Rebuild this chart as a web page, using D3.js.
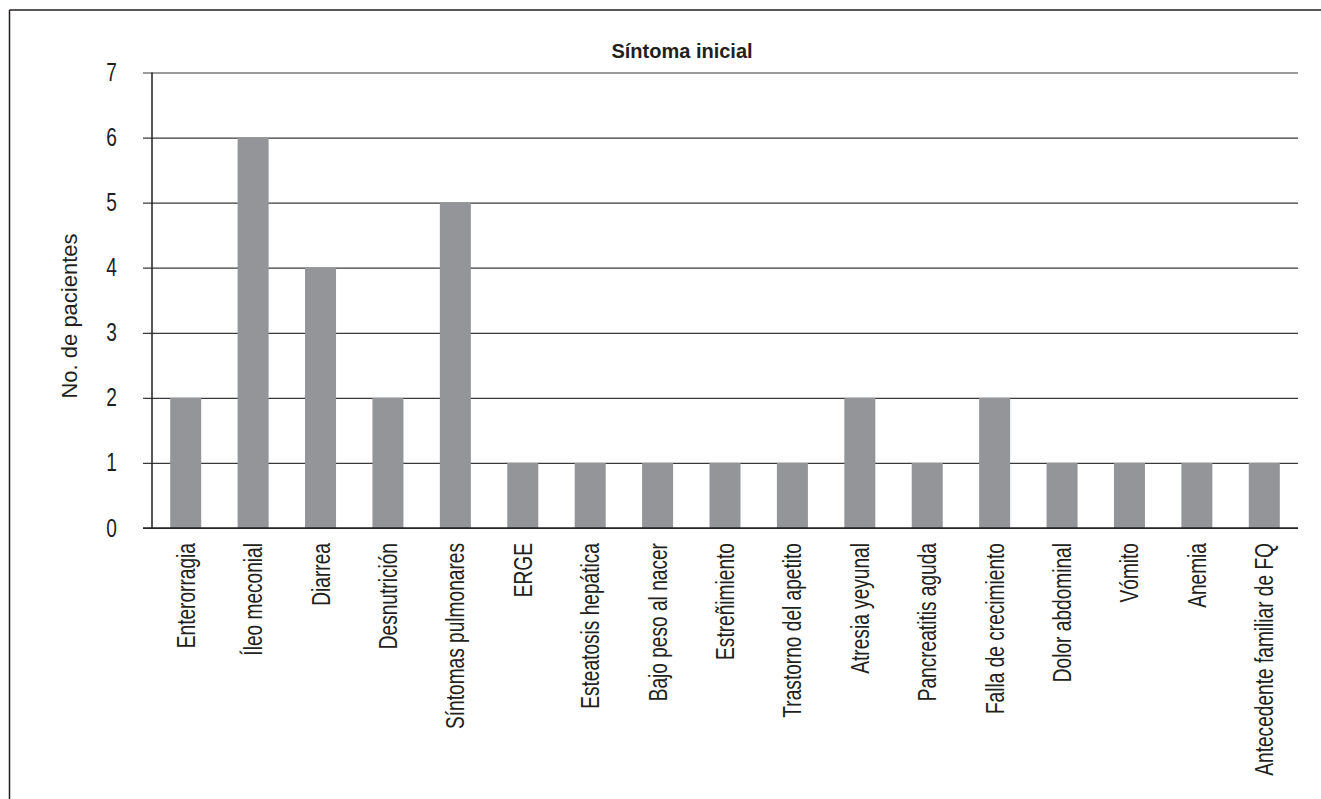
<!DOCTYPE html>
<html>
<head>
<meta charset="utf-8">
<script src="https://cdn.jsdelivr.net/npm/d3@7"></script>
<style>
  body { margin: 0; background: #fff; overflow: hidden; }
  svg text { font-family: "Liberation Sans", Arial, sans-serif; fill: #231f20; }
</style>
</head>
<body>
<script>
// data
const categories = ["Enterorragia", "Íleo meconial", "Diarrea", "Desnutrición", "Síntomas pulmonares",
  "ERGE", "Esteatosis hepática", "Bajo peso al nacer", "Estreñimiento", "Trastorno del apetito",
  "Atresia yeyunal", "Pancreatitis aguda", "Falla de crecimiento", "Dolor abdominal", "Vómito",
  "Anemia", "Antecedente familiar de FQ"]
const pacientes = [2, 6, 4, 2, 5, 1, 1, 1, 1, 1, 2, 1, 2, 1, 1, 1, 1]
const yTicks = [0, 1, 2, 3, 4, 5, 6, 7]

const title = "Síntoma inicial"
const yTitle = "No. de pacientes"

const W = 1321, H = 799
const plotLeft = 152, plotRight = 1298, plotTop = 72.5, plotBottom = 528
const narrow = 0.765   // the original uses a condensed face

const svg = d3.select("body").append("svg")
    .attr("width", W)
    .attr("height", H)
    .style("display", "block")

// frame: only the top and left edges show in the picture
svg.append("line")
    .attr("x1", 9.5).attr("x2", W)
    .attr("y1", 10).attr("y2", 10)
    .attr("stroke", "#231f20").attr("stroke-width", 1.5)
svg.append("line")
    .attr("x1", 9.5).attr("x2", 9.5)
    .attr("y1", 10).attr("y2", H)
    .attr("stroke", "#231f20").attr("stroke-width", 1.5)

let x = d3.scaleBand()
    .domain(categories)
    .range([plotLeft, plotRight])
    .paddingInner(0.54)
    .paddingOuter(0.27)

let y = d3.scaleLinear()
    .domain([0, 7])
    .range([plotBottom, plotTop])

// gridlines + ticks
svg.append("g")
    .attr("transform", `translate(${plotLeft},0)`)
    .call(d3.axisLeft(y).tickValues(yTicks).tickSize(-(plotRight - plotLeft)).tickSizeOuter(0).tickFormat(""))
    .call(g => g.select(".domain").remove())
    .call(g => g.selectAll(".tick line").attr("stroke", "#3a3a3a").attr("stroke-width", 1.2).attr("x1", -9))

// bars
svg.selectAll("rect.bar")
    .data(categories)
    .enter()
    .append("rect")
    .attr("class", "bar")
    .attr("x", d => x(d))
    .attr("width", x.bandwidth())
    .attr("y", (d, i) => y(pacientes[i]))
    .attr("height", (d, i) => y(0) - y(pacientes[i]))
    .attr("fill", "#939598")

// axis lines
svg.append("line")
    .attr("x1", plotLeft).attr("x2", plotLeft)
    .attr("y1", plotTop).attr("y2", plotBottom)
    .attr("stroke", "#231f20").attr("stroke-width", 1.5)
svg.append("line")
    .attr("x1", plotLeft - 9).attr("x2", plotRight)
    .attr("y1", y(0)).attr("y2", y(0))
    .attr("stroke", "#231f20").attr("stroke-width", 1.5)

// y tick labels
svg.selectAll("text.ytick")
    .data(yTicks)
    .enter()
    .append("text")
    .attr("class", "ytick")
    .attr("transform", d => `translate(117,${y(d) + 8.5}) scale(${narrow},1)`)
    .attr("text-anchor", "end")
    .attr("font-size", 25)
    .text(d => d)

// category labels, rotated
svg.selectAll("text.cat")
    .data(categories)
    .enter()
    .append("text")
    .attr("class", "cat")
    .attr("transform", d => `translate(${x(d) + x.bandwidth() / 2 + 9},${plotBottom + 15}) rotate(-90) scale(${narrow},1)`)
    .attr("text-anchor", "end")
    .attr("font-size", 25)
    .text(d => d)

// y title
svg.append("text")
    .attr("transform", "translate(77,316) rotate(-90)")
    .attr("text-anchor", "middle")
    .attr("font-size", 22)
    .text(yTitle)

// chart title
svg.append("text")
    .attr("x", 682)
    .attr("y", 58)
    .attr("text-anchor", "middle")
    .attr("font-size", 20)
    .attr("font-weight", "bold")
    .text(title)
</script>
</body>
</html>
